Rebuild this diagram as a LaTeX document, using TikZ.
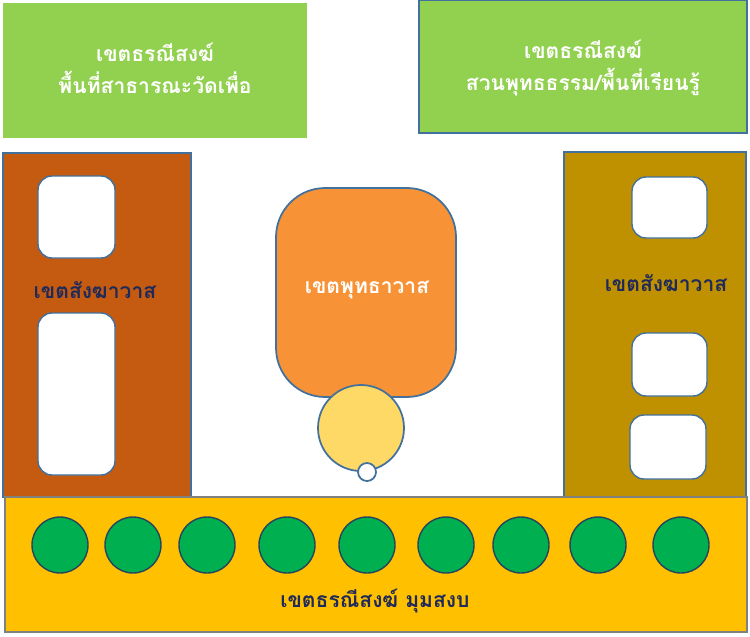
\documentclass[tikz,border=0pt]{standalone}
\usepackage{fontspec}
\newfontfamily\thaifont[Script=Thai]{Loma}
\usetikzlibrary{positioning}
\definecolor{leafgreen}{HTML}{92D050}
\definecolor{rust}{HTML}{C55A11}
\definecolor{ochre}{HTML}{BF9000}
\definecolor{peach}{HTML}{F79236}
\definecolor{butter}{HTML}{FFD966}
\definecolor{amber}{HTML}{FFC000}
\definecolor{tree}{HTML}{00B050}
\definecolor{edge}{HTML}{41719C}
\definecolor{navy}{HTML}{1F2A5A}
\tikzset{
  zone/.style={draw=edge, line width=1pt},
  hut/.style={draw=edge, fill=white, rounded corners=8pt, line width=0.8pt},
  tag/.style={font=\thaifont\bfseries\large, align=center},
  treetop/.style={circle, draw=edge!60!black, fill=tree, minimum size=57\pgflinewidth, inner sep=0pt}
}
\begin{document}
\begin{tikzpicture}[x=0.02cm, y=-0.02cm]
  \useasboundingbox (0,0) rectangle (750,636);

  % top areas
  \fill[leafgreen] (3,3) rectangle (307,138);
  \node[tag, text=white] (pub) at (155,68) {เขตธรณีสงฆ์\\[4pt]พื้นที่สาธารณะวัดเพื่อ};
  \draw[zone, fill=leafgreen] (419,0) rectangle (747,133);
  \node[tag, text=white] (garden) at (583,68) {เขตธรณีสงฆ์\\[4pt]สวนพุทธธรรม/พื้นที่เรียนรู้};

  % monks' quarters, left
  \draw[zone, fill=rust] (3,153) rectangle (191,497);
  \draw[hut] (38,176) rectangle (115,258);
  \draw[hut] (38,313) rectangle (115,475);
  \node[tag, text=navy] (sangL) at (95,290) {เขตสังฆาวาส};

  % monks' quarters, right
  \draw[zone, fill=ochre] (564,152) rectangle (746,497);
  \draw[hut] (632,177) rectangle (707,238);
  \draw[hut] (632,333) rectangle (707,396);
  \draw[hut] (630,415) rectangle (706,479);
  \node[tag, text=navy] (sangR) at (666,283) {เขตสังฆาวาส};

  % buddha area
  \draw[zone, fill=peach, rounded corners=28pt] (276,188) rectangle (456,397);
  \node[tag, text=white] (buddha) at (367,290) {เขตพุทธาวาส};
  \draw[zone, fill=butter] (361,428) circle (43);
  \draw[zone, fill=white] (367,472) circle (9);

  % bottom area
  \draw[draw=gray, line width=1pt, fill=amber] (5,497) rectangle (747,632);
  \foreach \x in {60,133,207,287,367,446,521,598,681}
    \draw[draw=edge!60!black, line width=0.8pt, fill=tree] (\x,545) circle (28);
  \node[tag, text=navy] (calm) at (375,601) {เขตธรณีสงฆ์ มุมสงบ};
\end{tikzpicture}
\end{document}
